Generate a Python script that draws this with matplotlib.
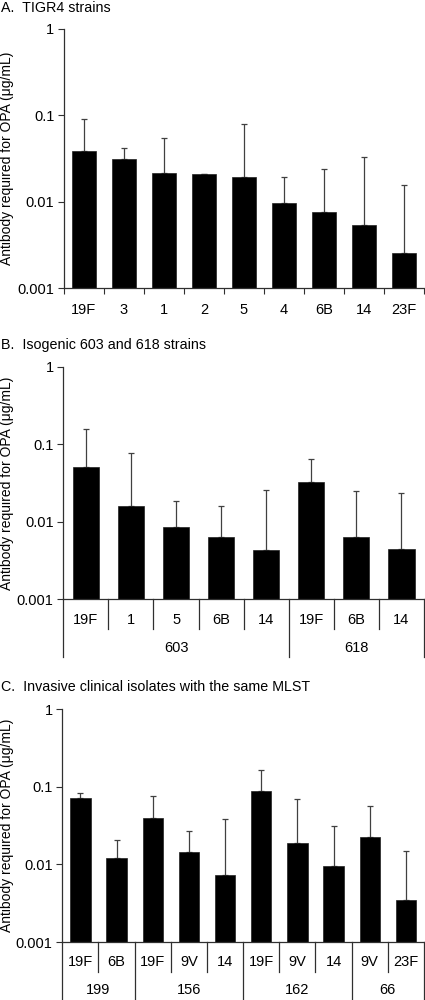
import matplotlib
matplotlib.use("Agg")
import matplotlib.pyplot as plt
import numpy as np

plt.rcParams['font.family'] = ['Liberation Sans', 'DejaVu Sans']

# ---- Data ----
a_labels = ["19F", "3", "1", "2", "5", "4", "6B", "14", "23F"]
a_values = [0.0385, 0.0313, 0.0218, 0.0209, 0.0193, 0.0098, 0.00767, 0.00543, 0.00253]
a_upper = [0.091, 0.042, 0.0553, 0.0209, 0.0794, 0.0196, 0.024, 0.033, 0.0157]

b_labels = ["19F", "1", "5", "6B", "14", "19F", "6B", "14"]
b_values = [0.0506, 0.0159, 0.00845, 0.00635, 0.00436, 0.0321, 0.0064, 0.00449]
b_upper = [0.157, 0.078, 0.0188, 0.0162, 0.0258, 0.0647, 0.0251, 0.0232]
b_groups = ["603", "618"]
b_group_sizes = [5, 3]

c_labels = ["19F", "6B", "19F", "9V", "14", "19F", "9V", "14", "9V", "23F"]
c_values = [0.0711, 0.0122, 0.0401, 0.0146, 0.0073, 0.0885, 0.0187, 0.00964, 0.0226, 0.00348]
c_upper = [0.0842, 0.0207, 0.077, 0.0272, 0.0389, 0.163, 0.0704, 0.031, 0.0561, 0.0147]
c_groups = ["199", "156", "162", "66"]
c_group_sizes = [2, 3, 3, 2]

yticks = [0.001, 0.01, 0.1, 1]
ytick_labels = ["0.001", "0.01", "0.1", "1"]
ylabel = "Antibody required for OPA (\u03bcg/mL)"
titles = ["A.  TIGR4 strains", "B.  Isogenic 603 and 618 strains",
          "C.  Invasive clinical isolates with the same MLST"]

W, H = 425, 1000
fig = plt.figure(figsize=(W / 100, H / 100), dpi=100)

AXC = '#303030'
FS = 10


def make_axes(left, top, bottom, right=424):
    return fig.add_axes([left / W, 1 - bottom / H, (right - left) / W, (bottom - top) / H])


def base(ax, labels, values, upper, width):
    n = len(labels)
    x = np.arange(n)
    ax.bar(x, values, width=width, color='black', edgecolor='#202020', linewidth=0.5, zorder=2)
    lower = np.zeros(n)
    up = np.array(upper) - np.array(values)
    ax.errorbar(x, values, yerr=[lower, up], fmt='none', ecolor='#404040',
                elinewidth=0.9, capsize=2.2, capthick=0.9, zorder=1)
    ax.set_yscale('log')
    ax.set_ylim(0.001, 1)
    ax.set_xlim(-0.5, n - 0.5)
    ax.yaxis.set_major_locator(matplotlib.ticker.FixedLocator(yticks))
    ax.yaxis.set_minor_locator(matplotlib.ticker.NullLocator())
    ax.set_yticklabels(ytick_labels)
    ax.tick_params(axis='y', direction='out', length=4, width=0.8, color=AXC,
                   labelsize=FS + 0.5, pad=3)
    for s in ['top', 'right']:
        ax.spines[s].set_visible(False)
    for s in ['left', 'bottom']:
        ax.spines[s].set_color(AXC)
        ax.spines[s].set_linewidth(0.9)
    ax.set_ylabel(ylabel, fontsize=FS, labelpad=4)
    ax.set_xticks([])
    return x


# Panel A
axA = make_axes(64, 29, 288.3)
xA = base(axA, a_labels, a_values, a_upper, 0.58)
axA.set_xticks(np.arange(len(a_labels) + 1) - 0.5, minor=True)
axA.tick_params(axis='x', which='minor', direction='out', length=4, width=0.8, color=AXC)
for xi, lab in zip(xA, a_labels):
    axA.text(xi, -22 / 259.3, lab, transform=axA.get_xaxis_transform(),
             ha='center', va='center', fontsize=FS + 0.5)


def grouped(ax, x, labels, groups, sizes, axh, r1, inner, r2, outer):
    tr = ax.get_xaxis_transform()
    n = len(labels)
    for xi, lab in zip(x, labels):
        ax.text(xi, -r1 / axh, lab, transform=tr, ha='center', va='center', fontsize=FS + 0.5)
    bounds = np.arange(n + 1) - 0.5
    starts = np.concatenate([[0], np.cumsum(sizes)])
    group_bounds = set(starts.tolist())
    for i, b in enumerate(bounds):
        depth = outer if i in group_bounds else inner
        ax.plot([b, b], [0, -depth / axh], transform=tr, color=AXC, lw=0.9, clip_on=False)
    for g, s0, s1 in zip(groups, starts[:-1], starts[1:]):
        ax.text((s0 + s1 - 1) / 2, -r2 / axh, g, transform=tr, ha='center', va='center',
                fontsize=FS + 0.5)


# Panel B
axB = make_axes(63.3, 366.7, 599.3)
xB = base(axB, b_labels, b_values, b_upper, 0.58)
grouped(axB, xB, b_labels, b_groups, b_group_sizes, 232.6, 20.7, 29.7, 48.7, 58)

# Panel C
axC = make_axes(62.3, 709.3, 942)
xC = base(axC, c_labels, c_values, c_upper, 0.56)
grouped(axC, xC, c_labels, c_groups, c_group_sizes, 232.7, 20.5, 30, 48, 60)

# Titles
for t, yy in zip(titles, [8, 345, 687]):
    fig.text(1 / W, 1 - yy / H, t, ha='left', va='center', fontsize=FS + 0.3)

# align ylabels (right edge of rotated label ~14 px from figure left)
for ax, left in zip((axA, axB, axC), (64, 63.3, 62.3)):
    ax.yaxis.set_label_coords(-(left - 14.5) / (424 - left), 0.5)

fig.savefig("out.png", dpi=100)
